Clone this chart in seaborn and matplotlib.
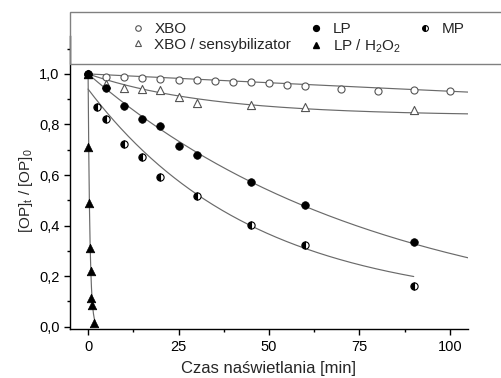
import numpy as np
import pandas as pd
import matplotlib
matplotlib.use("Agg")
import matplotlib.pyplot as plt
import seaborn as sns
from matplotlib.lines import Line2D
from matplotlib.patches import Rectangle
from matplotlib.ticker import FuncFormatter, MultipleLocator

# ---- data ----
xbo_t = [0, 5, 10, 15, 20, 25, 30, 35, 40, 45, 50, 55, 60, 70, 80, 90, 100]
xbo_y = [1.0, 0.988, 0.986, 0.984, 0.980, 0.975, 0.975, 0.971, 0.970, 0.968,
         0.966, 0.958, 0.953, 0.942, 0.934, 0.936, 0.934]

sens_t = [0, 5, 10, 15, 20, 25, 30, 45, 60, 90]
sens_y = [1.0, 0.959, 0.943, 0.942, 0.936, 0.909, 0.885, 0.876, 0.870, 0.857]

lp_t = [0, 5, 10, 15, 20, 25, 30, 45, 60, 90]
lp_y = [1.0, 0.943, 0.872, 0.821, 0.793, 0.714, 0.680, 0.573, 0.480, 0.335]

h2o2_t = [0, 0.08, 0.33, 0.58, 0.83, 0.92, 1.08, 1.5]
h2o2_y = [1.0, 0.71, 0.49, 0.31, 0.22, 0.115, 0.085, 0.015]

mp_t = [0, 2.5, 5, 10, 15, 20, 30, 45, 60, 90]
mp_y = [1.0, 0.870, 0.822, 0.721, 0.670, 0.594, 0.517, 0.402, 0.322, 0.161]

# fitted-curve parameters (y = c + a*exp(-k t))
fit_xbo = dict(a=1.0, k=0.00071, c=0.0, tmax=105)
fit_sens = dict(a=0.165, k=0.030, c=0.835, tmax=105)
fit_lp = dict(a=1.0, k=0.01237, c=0.0, tmax=105)
fit_mp = dict(a=0.86, k=0.022, c=0.08, tmax=90)
fit_h2o2 = dict(a=1.0, k=2.0, c=0.0, tmax=2.0)

xticks = [0, 25, 50, 75, 100]
yticks = [0.0, 0.2, 0.4, 0.6, 0.8, 1.0]

# ---- style ----
sns.set_theme(style="ticks")
plt.rcParams["font.family"] = ["Liberation Sans", "DejaVu Sans"]
plt.rcParams["mathtext.default"] = "regular"

fig = plt.figure(figsize=(5.02, 3.78), dpi=100)
ax = fig.add_axes([70 / 502, 1 - 329.3 / 378, 398 / 502, (329.3 - 36) / 378])

line_col = "#6a6a6a"

def curve(p):
    t = np.linspace(0, p["tmax"], 300)
    return pd.DataFrame({"t": t, "y": p["c"] + p["a"] * np.exp(-p["k"] * t)})

for p in [fit_xbo, fit_sens, fit_lp, fit_mp, fit_h2o2]:
    d = curve(p)
    sns.lineplot(data=d, x="t", y="y", color=line_col, lw=0.85, ax=ax,
                 zorder=1, legend=False, sort=False)

sns.scatterplot(x=xbo_t, y=xbo_y, marker="o", s=26, facecolor="white",
                edgecolor="#555555", linewidth=0.8, ax=ax, zorder=3)
sns.scatterplot(x=sens_t, y=sens_y, marker="^", s=34, facecolor="white",
                edgecolor="#555555", linewidth=0.8, ax=ax, zorder=3)
ax.plot(mp_t, mp_y, ls="none", marker="o", ms=5.2, fillstyle="left",
        mfc="black", mfcalt="white", mec="black", mew=0.8, zorder=4)
sns.scatterplot(x=lp_t, y=lp_y, marker="o", s=30, color="black",
                edgecolor="black", linewidth=0.5, ax=ax, zorder=5)
sns.scatterplot(x=h2o2_t, y=h2o2_y, marker="^", s=38, color="black",
                edgecolor="black", linewidth=0.5, ax=ax, zorder=6)

ax.set_xlim(-5, 105)
ax.set_ylim(-0.01, 1.15)
ax.set_xticks(xticks)
ax.set_yticks(yticks)
ax.xaxis.set_minor_locator(MultipleLocator(12.5))
ax.yaxis.set_minor_locator(MultipleLocator(0.1))
ax.yaxis.set_major_formatter(FuncFormatter(lambda v, p: f"{v:.1f}".replace(".", ",")))
ax.tick_params(which="major", direction="out", length=4, width=1, labelsize=10.5,
               colors="black", pad=3.5)
ax.tick_params(which="minor", direction="out", length=2.5, width=1, colors="black")
for s in ["top", "right"]:
    ax.spines[s].set_visible(False)
for s in ["left", "bottom"]:
    ax.spines[s].set_linewidth(1.0)
    ax.spines[s].set_color("black")

ax.set_xlabel("Czas naświetlania [min]", fontsize=12)
ax.set_ylabel("[OP]$_t$ / [OP]$_0$", fontsize=11)
ax.xaxis.set_label_coords((269 - 70) / 398, -(360.5 - 329.3) / 293.3)
ax.yaxis.set_label_coords((35 - 70) / 398, (329.3 - 191) / 293.3)

# legend box
fig.add_artist(Rectangle((70 / 502, 1 - 64 / 378), 1.0, 52 / 378,
                         transform=fig.transFigure, fill=False,
                         edgecolor="#808080", lw=1.0, zorder=3))

handles = [
    Line2D([], [], ls="none", marker="o", ms=4, mfc="white", mec="#555555", mew=0.8),
    Line2D([], [], ls="none", marker="^", ms=4.5, mfc="white", mec="#555555", mew=0.8),
    Line2D([], [], ls="none", marker="o", ms=4.2, mfc="black", mec="black"),
    Line2D([], [], ls="none", marker="^", ms=4.7, mfc="black", mec="black"),
    Line2D([], [], ls="none", marker="o", ms=4.2, fillstyle="left", mfc="black",
           mfcalt="white", mec="black", mew=0.8),
]
labels = ["XBO", "XBO / sensybilizator", "LP", "LP / H$_2$O$_2$", "MP"]
fig.legend(handles, labels, ncol=3, loc="upper left",
           bbox_to_anchor=(130 / 502, 1 - 22 / 378), frameon=False,
           handlelength=1.0, handletextpad=0.6, columnspacing=1.1,
           labelspacing=0.12, borderpad=0, borderaxespad=0, fontsize=11)

fig.savefig("out.png", dpi=100)
